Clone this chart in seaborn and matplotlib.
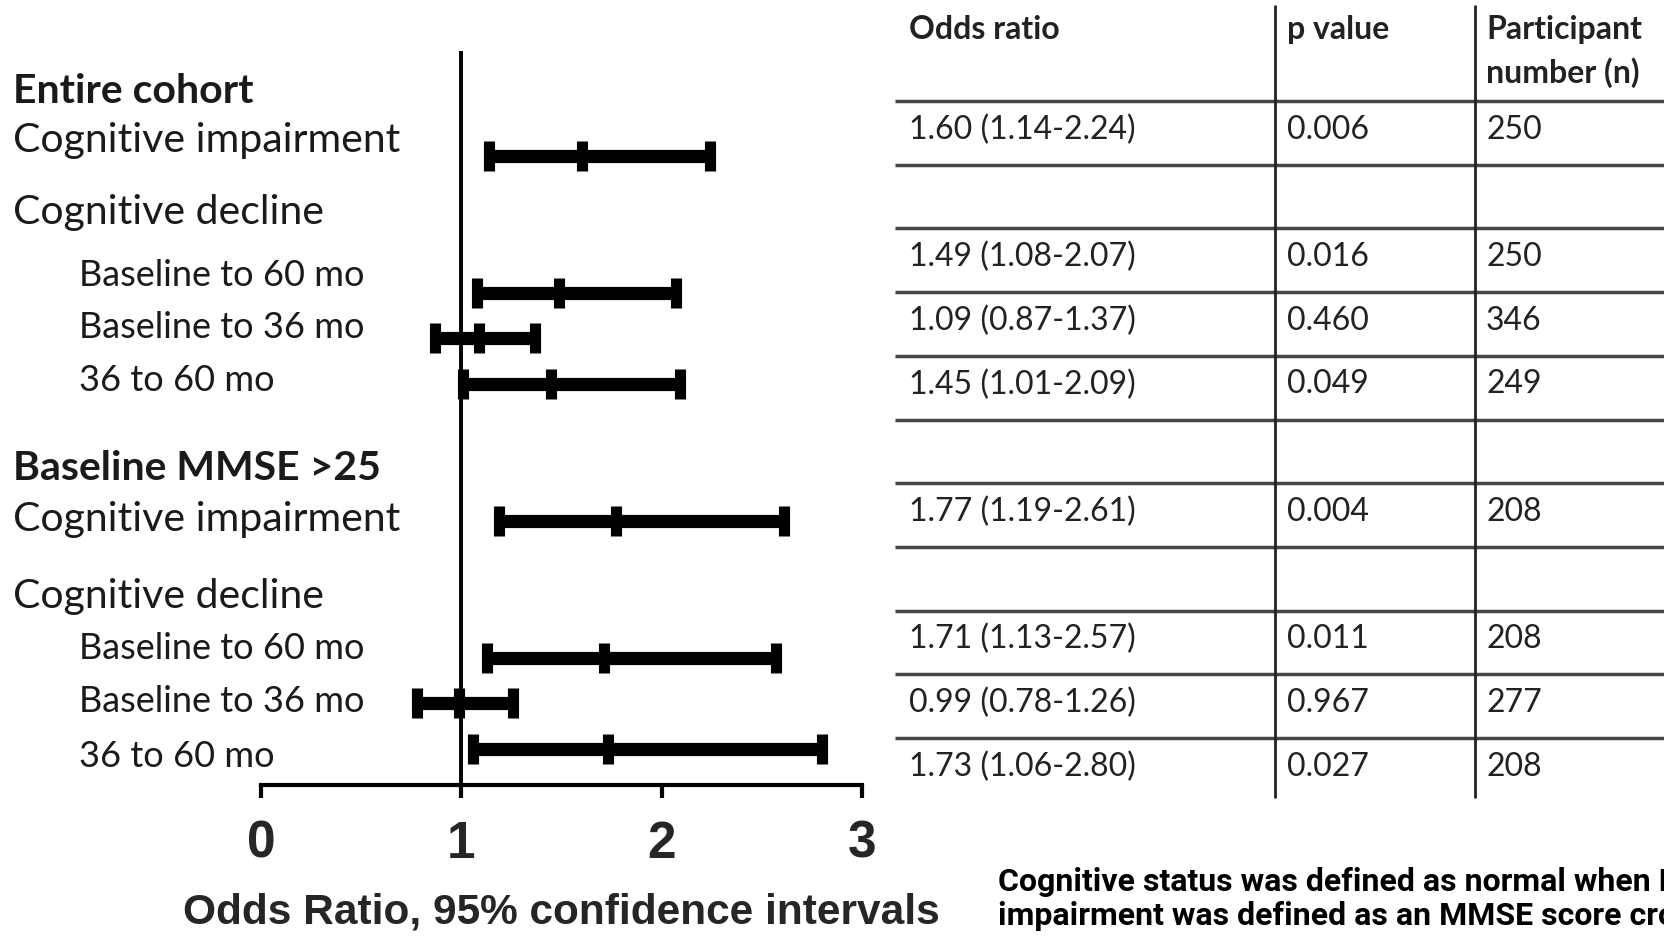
import matplotlib.pyplot as plt
import matplotlib.transforms as mtransforms
import seaborn as sns

# values
outcomes = ["Cognitive impairment", "Baseline to 60 mo", "Baseline to 36 mo", "36 to 60 mo",
            "Cognitive impairment", "Baseline to 60 mo", "Baseline to 36 mo", "36 to 60 mo"]
odds_ratio = [1.60, 1.49, 1.09, 1.45, 1.77, 1.71, 0.99, 1.73]
ci_low = [1.14, 1.08, 0.87, 1.01, 1.19, 1.13, 0.78, 1.06]
ci_high = [2.24, 2.07, 1.37, 2.09, 2.61, 2.57, 1.26, 2.80]
p_values = ["0.006", "0.016", "0.460", "0.049", "0.004", "0.011", "0.967", "0.027"]
n_participants = [250, 250, 346, 249, 208, 208, 277, 208]
x_ticks = [0, 1, 2, 3]
col_headers = ["Odds ratio", "p value", "Participant", "number (n)"]
footnote = ["Cognitive status was defined as normal when MMSE score was above 25, and cognitive",
            "impairment was defined as an MMSE score crossing below the cut-off at follow-up."]

# layout: row slots (gaps leave room for the sub-headings)
bar_rows = [0, 3, 4, 5, 8, 11, 12, 13]
table_slots = [0, 2, 3, 4, 6, 8, 9, 10]
label_rows = [("Entire cohort", -1.42, 0, "bold"),
              ("Cognitive impairment", -0.33, 0, "normal"),
              ("Cognitive decline", 1.23, 0, "normal"),
              ("Baseline to 60 mo", 2.62, 1, "normal"),
              ("Baseline to 36 mo", 3.76, 1, "normal"),
              ("36 to 60 mo", 4.92, 1, "normal"),
              ("Baseline MMSE >25", 6.86, 0, "bold"),
              ("Cognitive impairment", 7.96, 0, "normal"),
              ("Cognitive decline", 9.65, 0, "normal"),
              ("Baseline to 60 mo", 10.8, 1, "normal"),
              ("Baseline to 36 mo", 11.96, 1, "normal"),
              ("36 to 60 mo", 13.17, 1, "normal")]

sns.set_theme(style="white")
plt.rcParams["font.family"] = ["Lato", "DejaVu Sans"]

W, H = 1664, 938
fig = plt.figure(figsize=(W / 100, H / 100), dpi=100)

# forest plot
ax = fig.add_axes([261 / W, 1 - 785 / H, 601 / W, (785 - 51) / H])
xerr = [[o - l for o, l in zip(odds_ratio, ci_low)], [h - o for o, h in zip(odds_ratio, ci_high)]]
ax.errorbar(odds_ratio, bar_rows, xerr=xerr, fmt="none", ecolor="black",
            elinewidth=9.5, capsize=11, capthick=8)
sns.scatterplot(x=odds_ratio, y=bar_rows, marker="|", s=22 ** 2, linewidth=8,
                color="black", ax=ax, zorder=4)
ax.axvline(1, color="black", lw=2.8, zorder=1)
ax.set_xlim(0, 3)
ax.set_ylim(13.79, -2.30)
ax.set_xticks(x_ticks)
ax.set_xticklabels([str(t) for t in x_ticks], fontsize=37, fontweight="bold",
                   family="Liberation Sans")
ax.tick_params(axis="x", direction="out", length=9, width=3, pad=16, color="black",
               bottom=True)
ax.set_yticks([])
sns.despine(ax=ax, left=True)
ax.spines["bottom"].set_linewidth(3)
ax.spines["bottom"].set_color("black")
ax.set_xlabel("Odds Ratio, 95% confidence intervals", fontsize=30.5, fontweight="bold",
              family="Liberation Sans", labelpad=17)

trans = mtransforms.blended_transform_factory(fig.transFigure, ax.transData)
for text, y, indent, weight in label_rows:
    x = 79 / W if indent else 13 / W
    size = 26 if indent else 29.5
    ax.text(x, y, text, transform=trans, fontsize=size, fontweight=weight,
            color="#1a1a1a", va="center", ha="left", clip_on=False)

# table
axt = fig.add_axes([895 / W, 0, (W - 895) / W, 1])
axt.set_xlim(895, W)
axt.set_ylim(13.14, -1.586)
axt.axis("off")
axt.hlines(range(11), 895, W, color="#444444", lw=2.5)
axt.vlines([1274.5, 1475], -1.51, 10.94, color="#222222", lw=2)
col_x = [909, 1287, 1486]
head_kw = dict(fontsize=23, fontweight="bold", color="#222222", va="center")
axt.text(col_x[0], -1.12, col_headers[0], **head_kw)
axt.text(col_x[1], -1.12, col_headers[1], **head_kw)
axt.text(col_x[2], -1.12, col_headers[2], **head_kw)
axt.text(col_x[2], -0.45, col_headers[3], **head_kw)
cell_kw = dict(fontsize=23, color="#222222", va="center")
for s, o, l, h, p, n in zip(table_slots, odds_ratio, ci_low, ci_high, p_values, n_participants):
    axt.text(col_x[0], s + 0.45, f"{o:.2f} ({l:.2f}-{h:.2f})", **cell_kw)
    axt.text(col_x[1], s + 0.45, p, **cell_kw)
    axt.text(col_x[2], s + 0.45, str(n), **cell_kw)

for line, y_px in zip(footnote, [882, 916]):
    fig.text(998 / W, 1 - y_px / H, line, fontsize=23, fontweight="bold", color="black",
             va="center", ha="left", family="Roboto")

fig.savefig("out.png", dpi=100)
